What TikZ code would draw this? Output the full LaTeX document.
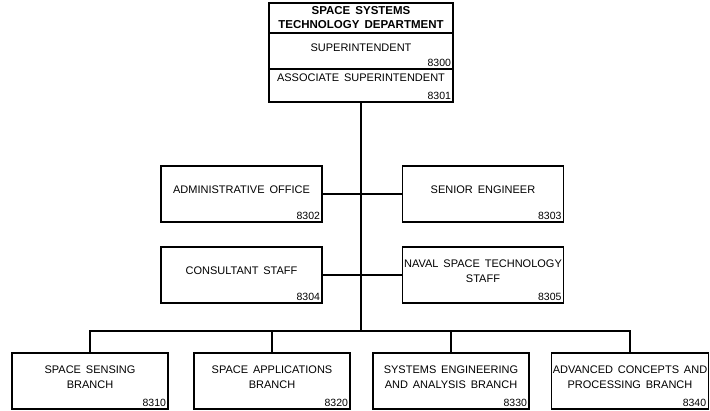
\documentclass[tikz,border=0pt]{standalone}
\usepackage{fontspec}
\setmainfont{Liberation Sans}[WordSpace=1.6]
\usepackage{tikz}

\tikzset{
  unit/.style={draw, line width=1.3pt, minimum width=161pt, minimum height=56pt, inner sep=1pt,
    align=center, text depth=8pt, font=\fontsize{11}{15}\selectfont},
  branch/.style={unit, minimum width=156pt},
  head/.style={draw, line width=1.3pt, minimum width=184pt, inner sep=0pt, align=center,
    font=\fontsize{11}{13.5}\selectfont},
  num/.style={anchor=south east, inner sep=2.5pt, font=\fontsize{10.5}{12}\selectfont},
  link/.style={line width=1.7pt}
}

\begin{document}
\begin{tikzpicture}[x=1pt,y=-1pt]
  \useasboundingbox (0,0) rectangle (710,411);

  % department head
  \node[head, minimum height=30pt, font=\fontsize{11.5}{14}\selectfont\bfseries] (dept) at (361,18)
    {SPACE SYSTEMS\\TECHNOLOGY DEPARTMENT};
  \node[head, minimum height=36pt, text depth=7pt] (supt) at (361,51) {SUPERINTENDENT};
  \node[num] (n8300) at (supt.south east) {8300};
  \node[head, minimum height=33pt, text depth=16pt] (assoc) at (361,85.5) {ASSOCIATE SUPERINTENDENT};
  \node[num] (n8301) at (assoc.south east) {8301};

  % staff
  \node[unit] (adm) at (241.5,194) {ADMINISTRATIVE OFFICE};
  \node[num] (n8302) at (adm.south east) {8302};
  \node[unit] (sen) at (483,194) {SENIOR ENGINEER};
  \node[num] (n8303) at (sen.south east) {8303};
  \node[unit] (con) at (241.5,275) {CONSULTANT STAFF};
  \node[num] (n8304) at (con.south east) {8304};
  \node[unit] (nav) at (483,275) {NAVAL SPACE TECHNOLOGY\\STAFF};
  \node[num] (n8305) at (nav.south east) {8305};

  % branches
  \node[branch] (ssb) at (90,381) {SPACE SENSING\\BRANCH};
  \node[num] (n8310) at (ssb.south east) {8310};
  \node[branch] (sab) at (272,381) {SPACE APPLICATIONS\\BRANCH};
  \node[num] (n8320) at (sab.south east) {8320};
  \node[branch] (sea) at (451,381) {SYSTEMS ENGINEERING\\AND ANALYSIS BRANCH};
  \node[num] (n8330) at (sea.south east) {8330};
  \node[branch] (acp) at (630,381) {ADVANCED CONCEPTS AND\\PROCESSING BRANCH};
  \node[num] (n8340) at (acp.south east) {8340};

  \coordinate (bus) at (361,331);

  \draw[link] (assoc.south) -- (assoc.south |- bus);
  \draw[link] (adm.east) -- (sen.west);
  \draw[link] (con.east) -- (nav.west);
  \draw[link] (ssb.north) |- (bus) -| (acp.north);
  \draw[link] (sab.north) -- (sab.north |- bus);
  \draw[link] (sea.north) -- (sea.north |- bus);
\end{tikzpicture}
\end{document}
